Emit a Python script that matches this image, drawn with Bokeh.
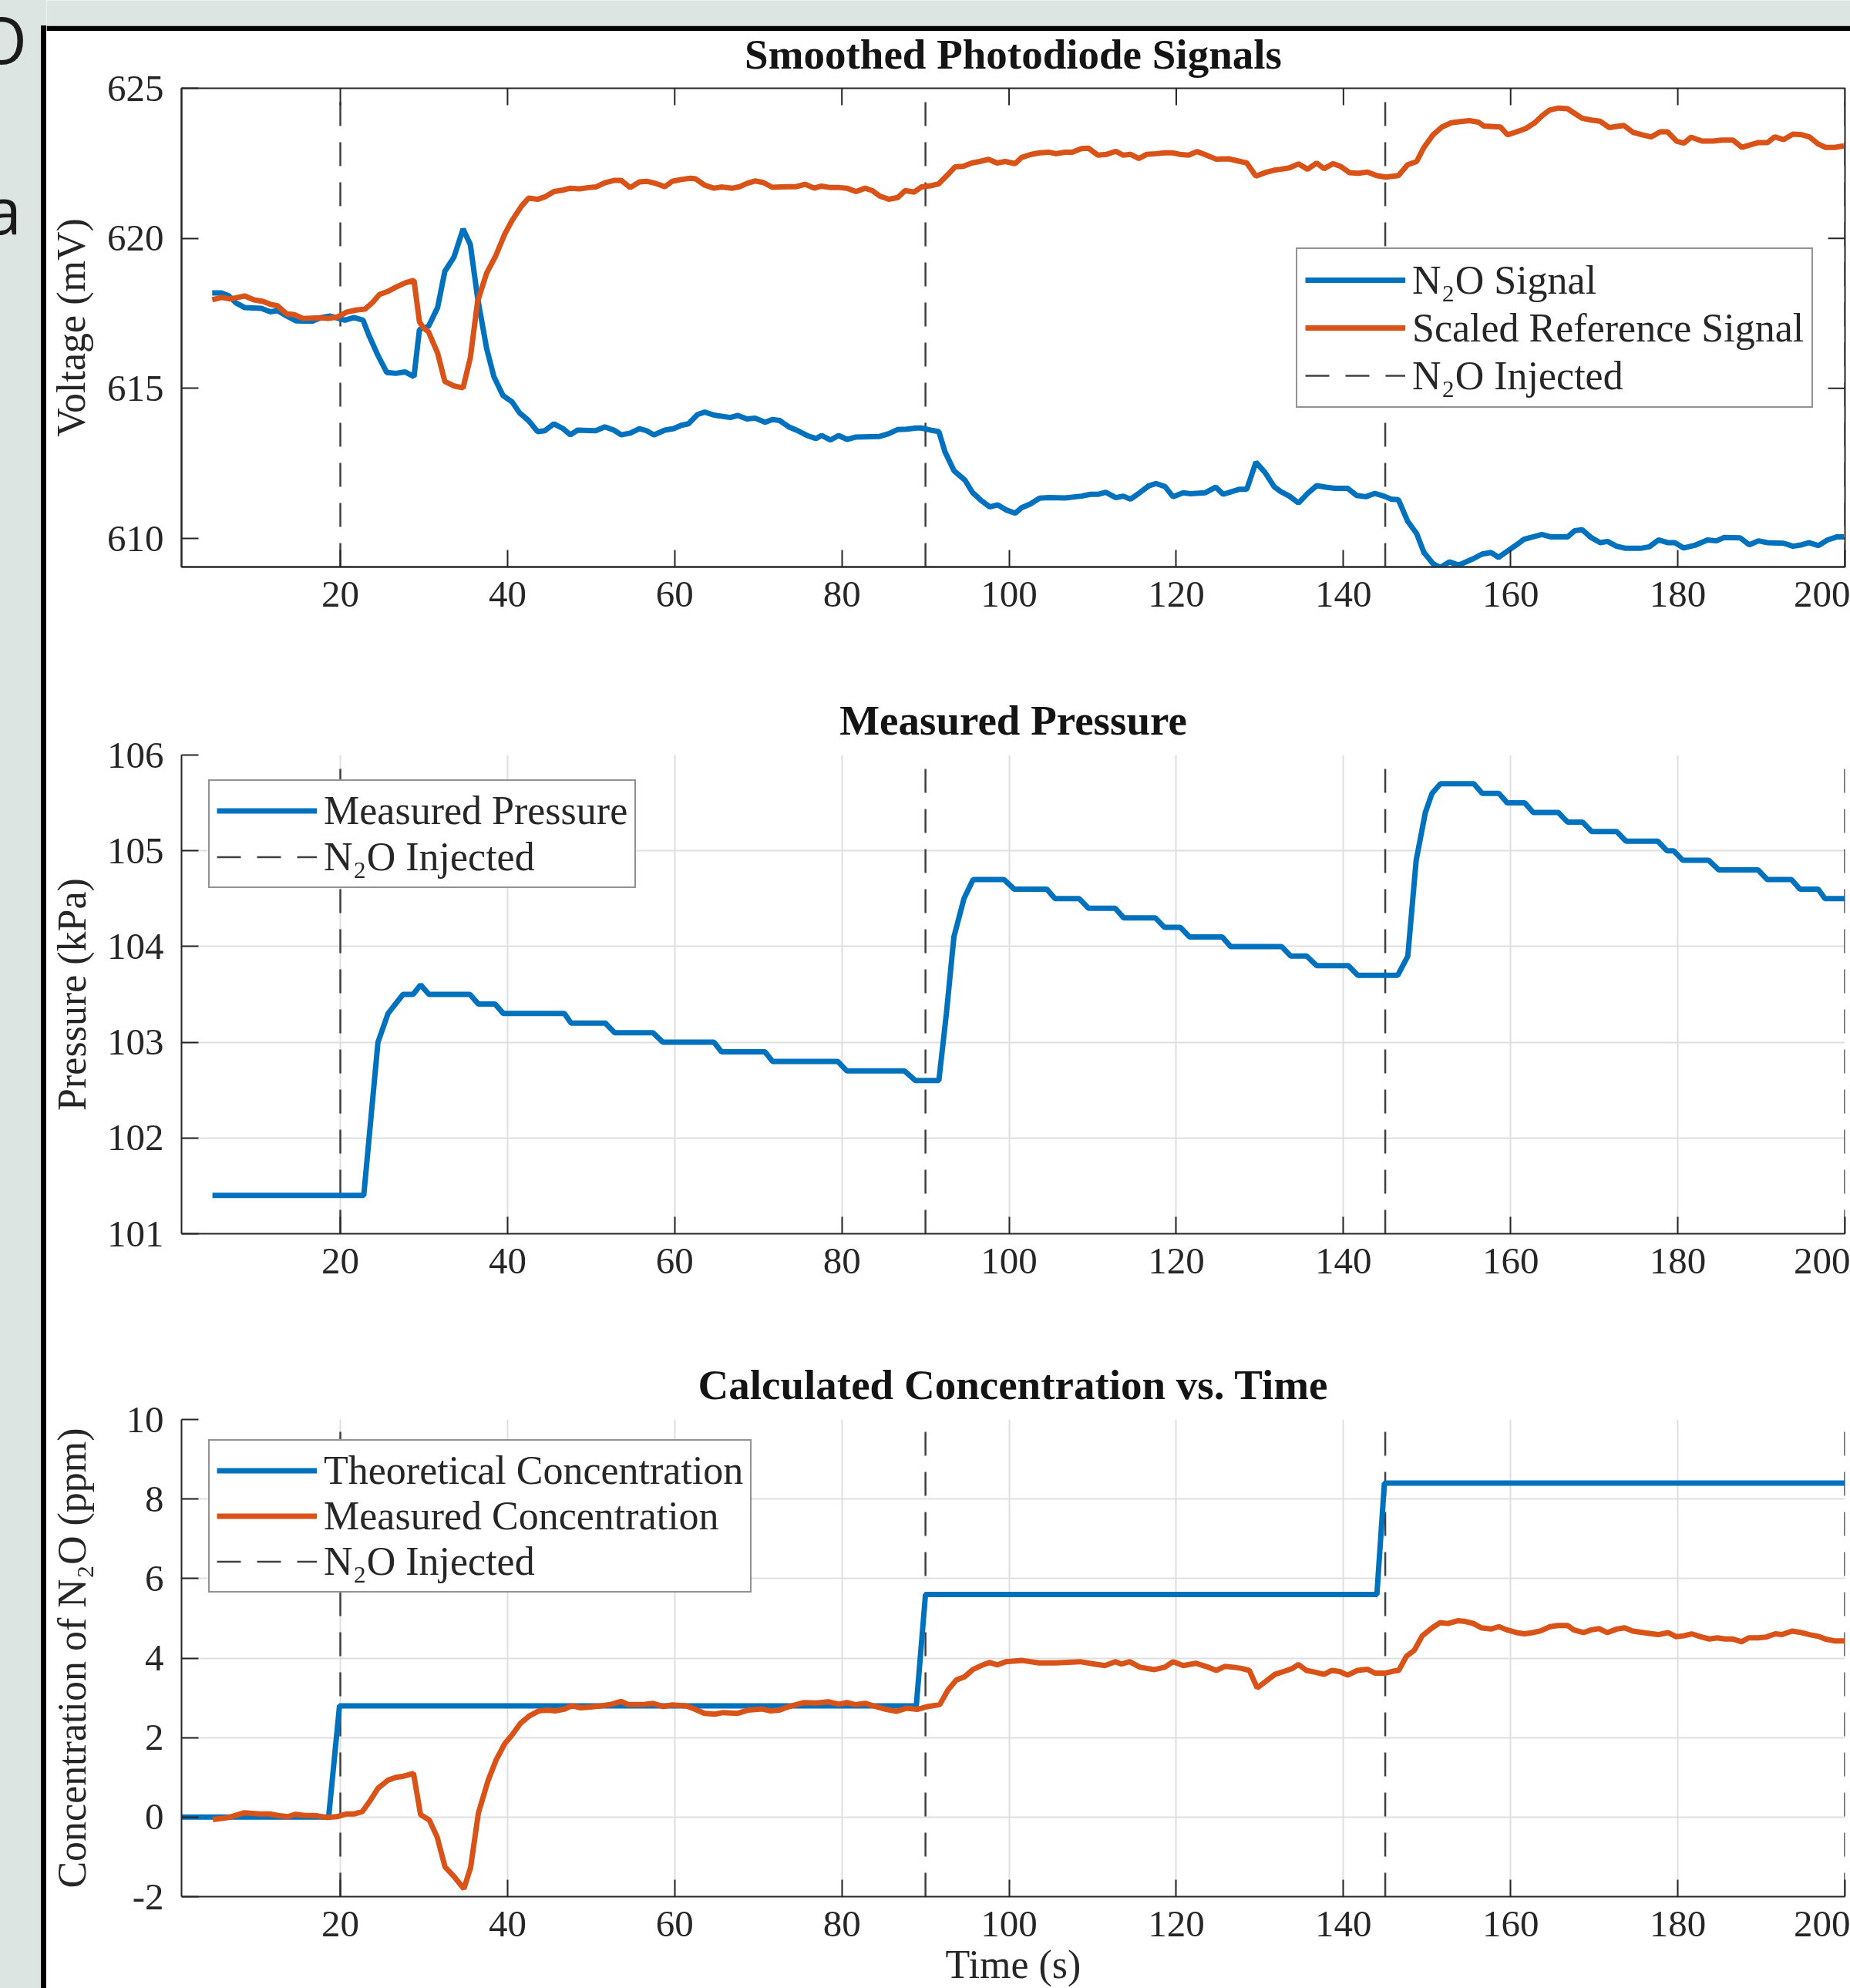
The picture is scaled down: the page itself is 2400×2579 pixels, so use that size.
import math
from bokeh.plotting import figure
from bokeh.models import Range1d, Legend, LegendItem, FixedTicker, Div
from bokeh.layouts import row, column
from bokeh.embed import file_html
from bokeh.resources import INLINE

# ---------------- data ----------------
# Smoothed photodiode signals (mV)
n2o_signal = [
    (4.67, 618.18), (5.76, 618.18), (6.63, 618.09), (7.50, 617.85), (8.58, 617.69), (10.54, 617.67),
    (11.63, 617.55), (12.50, 617.59), (13.59, 617.41), (14.67, 617.25), (16.63, 617.24), (17.72, 617.36),
    (18.80, 617.41), (20.55, 617.27), (21.63, 617.36), (22.72, 617.27), (23.37, 616.80), (24.46, 616.12),
    (25.55, 615.53), (26.63, 615.50), (27.72, 615.55), (28.81, 615.39), (29.46, 616.96), (30.55, 617.07),
    (31.63, 617.69), (32.50, 618.90), (33.59, 619.37), (34.68, 620.31), (35.55, 619.79), (36.42, 618.01),
    (37.50, 616.33), (38.37, 615.39), (39.46, 614.76), (40.55, 614.55), (41.42, 614.19), (42.51, 613.93),
    (43.59, 613.56), (44.46, 613.59), (45.55, 613.82), (46.64, 613.66), (47.51, 613.45), (48.38, 613.61),
    (50.55, 613.59), (51.64, 613.72), (52.73, 613.61), (53.60, 613.45), (54.68, 613.51), (55.77, 613.66),
    (56.64, 613.59), (57.51, 613.45), (58.82, 613.61), (59.90, 613.66), (60.77, 613.77), (61.64, 613.82),
    (62.73, 614.13), (63.60, 614.21), (64.69, 614.11), (66.65, 614.03), (67.55, 614.10), (68.64, 613.98),
    (69.60, 614.01), (70.81, 613.87), (71.68, 613.96), (72.55, 613.93), (73.64, 613.72), (74.73, 613.59),
    (75.82, 613.43), (76.90, 613.33), (77.56, 613.43), (78.64, 613.28), (79.60, 613.43), (80.60, 613.30),
    (81.69, 613.38), (84.51, 613.40), (85.60, 613.49), (86.69, 613.63), (87.78, 613.64), (88.86, 613.68),
    (89.51, 613.68), (90.60, 613.61), (91.60, 613.56), (92.34, 612.88), (93.43, 612.25), (94.73, 611.94),
    (95.60, 611.54), (96.69, 611.26), (97.69, 611.05), (98.65, 611.12), (99.73, 610.94), (100.73, 610.84),
    (101.47, 611.02), (102.56, 611.15), (103.65, 611.34), (104.74, 611.36), (106.69, 611.35), (108.65, 611.41),
    (109.74, 611.47), (110.61, 611.47), (111.56, 611.54), (112.78, 611.36), (113.65, 611.41), (114.52, 611.31),
    (115.61, 611.52), (116.70, 611.75), (117.57, 611.83), (118.65, 611.73), (119.61, 611.39), (120.83, 611.52),
    (121.70, 611.49), (123.44, 611.52), (124.74, 611.71), (125.61, 611.47), (127.57, 611.64), (128.44, 611.64),
    (129.53, 612.54), (130.61, 612.20), (131.70, 611.73), (132.45, 611.57), (133.54, 611.41), (134.62, 611.18),
    (135.71, 611.50), (136.80, 611.76), (137.89, 611.71), (138.97, 611.67), (140.50, 611.67), (141.58, 611.43),
    (142.67, 611.39), (143.76, 611.50), (144.84, 611.41), (145.71, 611.31), (146.58, 611.29), (147.67, 610.58),
    (148.76, 610.16), (149.63, 609.53), (150.72, 609.16), (151.59, 609.03), (152.67, 609.22), (153.76, 609.11),
    (155.50, 609.32), (156.59, 609.48), (157.67, 609.53), (158.54, 609.37), (159.63, 609.58), (160.72, 609.79),
    (161.59, 609.97), (162.89, 610.07), (163.76, 610.13), (164.85, 610.05), (166.81, 610.05), (167.68, 610.26),
    (168.55, 610.29), (169.63, 610.03), (170.72, 609.86), (171.59, 609.90), (172.68, 609.74), (173.77, 609.67),
    (175.51, 609.67), (176.59, 609.72), (177.68, 609.95), (178.77, 609.86), (179.64, 609.86), (180.72, 609.68),
    (182.03, 609.77), (183.55, 609.95), (184.64, 609.92), (185.51, 610.03), (187.46, 610.02), (188.55, 609.79),
    (189.64, 609.92), (190.73, 609.86), (192.68, 609.84), (193.77, 609.74), (194.86, 609.79), (195.73, 609.86),
    (196.82, 609.76), (197.90, 609.95), (198.99, 610.05), (199.86, 610.05),
]
reference_signal = [
    (4.67, 617.95), (5.76, 618.03), (6.85, 617.98), (8.58, 618.08), (9.67, 617.95), (10.76, 617.90),
    (11.63, 617.80), (12.50, 617.75), (13.59, 617.48), (14.46, 617.46), (15.54, 617.33), (17.50, 617.35),
    (18.59, 617.33), (19.67, 617.38), (20.76, 617.54), (21.85, 617.61), (22.94, 617.64), (23.81, 617.85),
    (24.68, 618.13), (25.76, 618.24), (26.63, 618.37), (27.72, 618.51), (28.81, 618.60), (29.46, 617.22),
    (29.90, 617.03), (30.55, 616.88), (31.63, 616.18), (32.50, 615.23), (33.59, 615.08), (34.68, 615.02),
    (35.55, 616.02), (36.42, 617.90), (37.50, 618.84), (38.59, 619.42), (39.68, 620.15), (40.55, 620.60),
    (41.64, 621.06), (42.51, 621.34), (43.59, 621.30), (44.46, 621.38), (45.55, 621.56), (46.64, 621.61),
    (47.51, 621.67), (48.60, 621.65), (49.68, 621.69), (50.55, 621.71), (51.64, 621.85), (52.73, 621.93),
    (53.60, 621.93), (54.68, 621.69), (55.77, 621.88), (56.64, 621.90), (57.73, 621.83), (58.82, 621.72),
    (59.69, 621.90), (60.77, 621.96), (61.86, 622.00), (62.51, 621.98), (63.60, 621.77), (64.69, 621.67),
    (65.56, 621.71), (66.90, 621.67), (67.77, 621.72), (68.64, 621.83), (69.60, 621.91), (70.60, 621.86),
    (71.68, 621.70), (73.42, 621.72), (74.51, 621.72), (75.60, 621.80), (76.69, 621.67), (77.56, 621.74),
    (78.64, 621.69), (79.73, 621.69), (80.60, 621.67), (81.69, 621.56), (82.77, 621.67), (83.64, 621.59),
    (84.51, 621.41), (85.60, 621.30), (86.69, 621.36), (87.56, 621.59), (88.65, 621.54), (89.51, 621.71),
    (90.60, 621.75), (91.60, 621.82), (92.56, 622.09), (93.52, 622.38), (94.52, 622.40), (95.52, 622.51),
    (96.47, 622.56), (97.56, 622.63), (98.56, 622.51), (99.52, 622.56), (100.73, 622.49), (101.47, 622.69),
    (102.56, 622.79), (103.65, 622.85), (104.74, 622.87), (105.61, 622.82), (106.69, 622.87), (107.56, 622.87),
    (108.65, 622.99), (109.52, 623.00), (110.61, 622.77), (111.69, 622.80), (112.78, 622.90), (113.65, 622.77),
    (114.52, 622.80), (115.52, 622.66), (116.48, 622.80), (117.57, 622.82), (118.65, 622.85), (119.52, 622.85),
    (120.39, 622.80), (121.48, 622.77), (122.48, 622.89), (123.44, 622.79), (124.74, 622.64), (126.26, 622.65),
    (127.35, 622.58), (128.44, 622.51), (129.53, 622.07), (130.61, 622.19), (131.70, 622.27), (132.45, 622.30),
    (133.54, 622.35), (134.62, 622.48), (135.71, 622.30), (136.80, 622.51), (137.67, 622.32), (138.76, 622.49),
    (139.63, 622.40), (140.71, 622.19), (141.80, 622.17), (142.89, 622.21), (143.97, 622.09), (145.06, 622.04),
    (146.58, 622.09), (147.67, 622.45), (148.76, 622.56), (149.63, 623.03), (150.72, 623.45), (151.80, 623.71),
    (152.89, 623.85), (153.98, 623.89), (155.06, 623.92), (156.15, 623.87), (156.80, 623.74), (158.76, 623.71),
    (159.63, 623.45), (160.72, 623.55), (161.81, 623.66), (162.89, 623.85), (163.76, 624.08), (164.63, 624.27),
    (165.72, 624.34), (166.81, 624.32), (167.68, 624.16), (168.55, 624.00), (169.63, 623.94), (170.72, 623.90),
    (171.81, 623.69), (172.68, 623.73), (173.55, 623.76), (174.64, 623.53), (175.72, 623.45), (176.81, 623.38),
    (177.90, 623.55), (178.77, 623.55), (179.85, 623.24), (180.72, 623.17), (181.59, 623.37), (182.90, 623.24),
    (184.20, 623.24), (185.29, 623.27), (186.59, 623.27), (187.68, 623.03), (188.77, 623.12), (189.64, 623.19),
    (190.73, 623.19), (191.60, 623.38), (192.68, 623.29), (193.77, 623.47), (194.86, 623.45), (195.73, 623.38),
    (196.82, 623.14), (197.69, 623.03), (198.77, 623.03), (199.86, 623.08),
]
# Measured pressure (kPa)
pressure = [
    (4.7, 101.4), (22.8, 101.4), (24.5, 103.0), (25.7, 103.3), (27.5, 103.5), (28.7, 103.5), (29.6, 103.6),
    (30.6, 103.5), (35.5, 103.5), (36.5, 103.4), (38.5, 103.4), (39.5, 103.3), (46.8, 103.3), (47.6, 103.2),
    (51.7, 103.2), (52.8, 103.1), (57.4, 103.1), (58.6, 103.0), (64.7, 103.0), (65.6, 102.9), (70.8, 102.9),
    (71.7, 102.8), (79.5, 102.8), (80.6, 102.7), (87.5, 102.7), (88.8, 102.6), (91.6, 102.6), (92.5, 103.3),
    (93.4, 104.1), (94.6, 104.5), (95.7, 104.7), (99.4, 104.7), (100.6, 104.6), (104.5, 104.6), (105.5, 104.5),
    (108.4, 104.5), (109.5, 104.4), (112.7, 104.4), (113.7, 104.3), (117.5, 104.3), (118.6, 104.2),
    (120.5, 104.2), (121.6, 104.1), (125.5, 104.1), (126.5, 104.0), (132.6, 104.0), (133.7, 103.9),
    (135.6, 103.9), (136.8, 103.8), (140.6, 103.8), (141.7, 103.7), (146.5, 103.7), (147.7, 103.9),
    (148.7, 104.9), (149.8, 105.4), (150.6, 105.6), (151.6, 105.7), (155.6, 105.7), (156.6, 105.6),
    (158.6, 105.6), (159.6, 105.5), (161.7, 105.5), (162.7, 105.4), (165.7, 105.4), (166.8, 105.3),
    (168.6, 105.3), (169.7, 105.2), (172.7, 105.2), (173.8, 105.1), (177.6, 105.1), (178.7, 105.0),
    (179.5, 105.0), (180.6, 104.9), (183.7, 104.9), (184.9, 104.8), (189.6, 104.8), (190.7, 104.7),
    (193.6, 104.7), (194.6, 104.6), (196.8, 104.6), (197.6, 104.5), (200.0, 104.5),
]
# Concentration of N2O (ppm)
theoretical_conc = [(1.0, 0.0), (18.6, 0.0), (19.9, 2.8), (88.9, 2.8), (90.0, 5.6),
                    (144.0, 5.6), (144.9, 8.4), (200.0, 8.4)]
measured_conc = [
    (4.75, -0.06), (6.63, -0.01), (8.52, 0.11), (10.40, 0.08), (11.58, 0.08), (12.52, 0.04), (13.70, 0.01),
    (14.64, 0.07), (15.81, 0.04), (16.99, 0.04), (18.40, -0.01), (19.58, 0.01), (20.75, 0.08), (21.69, 0.08),
    (22.63, 0.14), (23.58, 0.42), (24.52, 0.73), (25.70, 0.93), (26.64, 1.00), (27.58, 1.03), (28.75, 1.10),
    (29.60, 0.06), (30.63, -0.07), (31.58, -0.50), (32.52, -1.25), (33.70, -1.52), (34.78, -1.80),
    (35.58, -1.27), (36.52, 0.11), (37.69, 0.93), (38.64, 1.44), (39.67, 1.85), (40.52, 2.06), (41.55, 2.36),
    (42.64, 2.55), (43.72, 2.67), (44.76, 2.69), (45.70, 2.67), (46.87, 2.72), (47.67, 2.80), (48.76, 2.75),
    (49.93, 2.77), (51.23, 2.80), (52.46, 2.84), (53.60, 2.91), (54.44, 2.83), (56.17, 2.83), (57.40, 2.86),
    (58.64, 2.78), (59.62, 2.82), (61.35, 2.80), (62.34, 2.72), (63.57, 2.61), (64.81, 2.59), (65.79, 2.63),
    (67.52, 2.61), (68.76, 2.69), (70.48, 2.72), (71.47, 2.67), (72.46, 2.69), (73.69, 2.78), (75.42, 2.88),
    (76.90, 2.87), (78.38, 2.90), (79.62, 2.84), (80.61, 2.88), (81.59, 2.83), (82.83, 2.86), (84.06, 2.78),
    (85.30, 2.71), (86.53, 2.66), (87.76, 2.74), (89.00, 2.71), (90.23, 2.78), (91.71, 2.83), (92.70, 3.20),
    (93.69, 3.45), (94.68, 3.53), (95.66, 3.71), (96.65, 3.81), (97.64, 3.89), (98.62, 3.83), (99.61, 3.91),
    (101.59, 3.94), (103.56, 3.88), (105.53, 3.88), (108.50, 3.91), (110.22, 3.85), (111.46, 3.81),
    (112.69, 3.91), (113.44, 3.85), (114.42, 3.91), (115.66, 3.77), (117.39, 3.71), (118.62, 3.77),
    (119.61, 3.91), (120.84, 3.81), (122.32, 3.87), (123.56, 3.79), (124.79, 3.69), (125.78, 3.79),
    (126.86, 3.77), (127.80, 3.74), (128.74, 3.69), (129.68, 3.25), (130.62, 3.40), (131.80, 3.59),
    (132.97, 3.67), (133.91, 3.74), (134.62, 3.84), (135.56, 3.69), (136.74, 3.64), (137.68, 3.59),
    (138.62, 3.69), (139.56, 3.66), (140.50, 3.57), (141.67, 3.69), (142.85, 3.72), (143.79, 3.62),
    (144.97, 3.62), (145.91, 3.67), (146.61, 3.69), (147.55, 4.05), (148.49, 4.20), (149.43, 4.56),
    (150.61, 4.76), (151.55, 4.89), (152.49, 4.87), (153.67, 4.94), (154.61, 4.92), (155.55, 4.87),
    (156.49, 4.76), (157.66, 4.73), (158.60, 4.79), (159.55, 4.71), (160.72, 4.64), (161.66, 4.61),
    (162.60, 4.64), (163.54, 4.68), (164.72, 4.79), (165.66, 4.82), (166.84, 4.82), (167.54, 4.71),
    (168.72, 4.64), (169.66, 4.71), (170.60, 4.74), (171.54, 4.64), (172.71, 4.73), (173.65, 4.76),
    (174.60, 4.68), (176.24, 4.63), (177.65, 4.59), (178.83, 4.64), (179.77, 4.54), (180.71, 4.56),
    (181.65, 4.61), (182.83, 4.53), (183.77, 4.48), (184.71, 4.51), (185.65, 4.48), (186.59, 4.48),
    (187.62, 4.41), (188.47, 4.51), (189.65, 4.51), (190.59, 4.53), (191.67, 4.61), (192.47, 4.59),
    (193.65, 4.68), (194.58, 4.65), (195.76, 4.59), (196.94, 4.54), (197.64, 4.48), (198.82, 4.43),
    (200.00, 4.43),
]
injection_times = [20, 90, 145, 200]

x_ticks = [20, 40, 60, 80, 100, 120, 140, 160, 180, 200]
voltage_ticks = [610, 615, 620, 625]
pressure_ticks = [101, 102, 103, 104, 105, 106]
conc_ticks = [-2, 0, 2, 4, 6, 8, 10]

# ---------------- styling ----------------
INK = "#262626"
BLUE = "#0072BD"
ORANGE = "#D95319"
DASH_C = "#404040"
GRID_C = "#dfdfdf"
BAND = "#dde5e3"
SERIF = "Liberation Serif"
DASH = "31 21"
X_RANGE = (1, 200)


def split(pts):
    return [a for a, _ in pts], [b for _, b in pts]


def style_axis(ax, standoff):
    ax.axis_line_color = INK
    ax.axis_line_width = 2
    ax.major_tick_line_color = INK
    ax.major_tick_line_width = 2
    ax.major_tick_in = 22
    ax.major_tick_out = 0
    ax.minor_tick_line_color = None
    ax.major_label_text_font = SERIF
    ax.major_label_text_font_size = "49px"
    ax.major_label_text_color = INK
    ax.major_label_standoff = standoff
    ax.axis_label_text_font = SERIF
    ax.axis_label_text_font_size = "52px"
    ax.axis_label_text_font_style = "normal"
    ax.axis_label_text_color = INK


def make_panel(height, b_top, b_bottom, yr, yticks, title, ylabel, grid, ylabel_standoff,
               title_standoff, margin=0):
    p = figure(width=2340, height=height, x_range=Range1d(*X_RANGE), y_range=Range1d(*yr),
               output_backend="svg", toolbar_location=None, title=title, margin=margin,
               min_border_left=175, min_border_right=7, min_border_top=b_top, min_border_bottom=b_bottom)
    p.title.text_font = SERIF
    p.title.text_font_size = "55px"
    p.title.text_font_style = "bold"
    p.title.align = "center"
    p.title.text_color = "#141414"
    p.title.standoff = title_standoff
    p.xaxis.ticker = FixedTicker(ticks=x_ticks)
    p.yaxis.ticker = FixedTicker(ticks=yticks)
    style_axis(p.xaxis[0], 19)
    style_axis(p.yaxis[0], 23)
    p.yaxis.axis_label = ylabel
    p.yaxis.axis_label_standoff = ylabel_standoff
    p.background_fill_color = "white"
    p.border_fill_color = "white"
    if grid:
        p.grid.grid_line_color = GRID_C
        p.grid.grid_line_width = 2
        p.outline_line_color = None
    else:
        p.grid.grid_line_color = None
        p.outline_line_color = INK
        p.outline_line_width = 2
    return p


def add_injections(p, y0, y1):
    n = len(injection_times)
    return p.segment(x0=injection_times, y0=[y0] * n, x1=injection_times, y1=[y1] * n,
                     line_color=DASH_C, line_width=2.5, line_dash=DASH)


def add_legend(p, items, loc, label_h, spacing, padding):
    leg = Legend(items=items, location=loc, orientation="vertical",
                 label_text_font=SERIF, label_text_font_size="52px", label_text_color=INK,
                 glyph_width=130, glyph_height=label_h, label_height=label_h, label_standoff=9,
                 padding=padding, spacing=spacing, border_line_color=INK, border_line_width=2,
                 background_fill_color="white", background_fill_alpha=1.0, margin=0)
    p.add_layout(leg, "center")


# ---------------- panel 1: photodiode signals ----------------
# the panel slides 17 px under the screenshot's top band (its border is transparent there)
V_RANGE = (609.05, 625)
p1 = make_panel(847, 91, 135, V_RANGE, voltage_ticks, "Smoothed Photodiode Signals",
                "Voltage (mV)", grid=False, ylabel_standoff=15, title_standoff=28,
                margin=(-17, 0, 0, 0))
p1.border_fill_alpha = 0.0
d1 = add_injections(p1, V_RANGE[0], V_RANGE[1])
# inward box ticks on the top and right edges (half of each dash is clipped by the frame)
p1.scatter(x=x_ticks, y=[V_RANGE[1]] * len(x_ticks), marker="dash", size=44, angle=math.pi / 2,
           line_color=INK, line_width=2)
p1.scatter(x=[X_RANGE[1]] * 3, y=voltage_ticks[:3], marker="dash", size=44,
           line_color=INK, line_width=2)
tx, vy = split(n2o_signal)
r_sig = p1.line(tx, vy, line_color=BLUE, line_width=7)
tx, vy = split(reference_signal)
r_ref = p1.line(tx, vy, line_color=ORANGE, line_width=7)
add_legend(p1, [LegendItem(label="N\u2082O Signal", renderers=[r_sig]),
                LegendItem(label="Scaled Reference Signal", renderers=[r_ref]),
                LegendItem(label="N\u2082O Injected", renderers=[d1])],
           (1446, 206), 60, 2, 10)

# ---------------- panel 2: pressure ----------------
P_RANGE = (101, 106)
p2 = make_panel(850, 109, 120, P_RANGE, pressure_ticks, "Measured Pressure",
                "Pressure (kPa)", grid=True, ylabel_standoff=14, title_standoff=30)
d2 = add_injections(p2, P_RANGE[0], P_RANGE[1])
tx, py = split(pressure)
r_p = p2.line(tx, py, line_color=BLUE, line_width=7)
add_legend(p2, [LegendItem(label="Measured Pressure", renderers=[r_p]),
                LegendItem(label="N\u2082O Injected", renderers=[d2])],
           (35, 448), 59, 1, 9)

# ---------------- panel 3: concentration ----------------
C_RANGE = (-2, 10)
p3 = make_panel(859, 121, 117, C_RANGE, conc_ticks, "Calculated Concentration vs. Time",
                "Concentration of N\u2082O (ppm)", grid=True, ylabel_standoff=39, title_standoff=30)
p3.yaxis.major_label_overrides = {-2: "-2"}
p3.xaxis.axis_label = "Time (s)"
p3.xaxis.axis_label_standoff = 5
d3 = add_injections(p3, C_RANGE[0], C_RANGE[1])
tx, cy = split(theoretical_conc)
r_th = p3.line(tx, cy, line_color=BLUE, line_width=7)
tx, cy = split(measured_conc)
r_me = p3.line(tx, cy, line_color=ORANGE, line_width=7)
add_legend(p3, [LegendItem(label="Theoretical Concentration", renderers=[r_th]),
                LegendItem(label="Measured Concentration", renderers=[r_me]),
                LegendItem(label="N\u2082O Injected", renderers=[d3])],
           (35, 394), 57, -3, 9)

# ---------------- surrounding screenshot frame ----------------
GLYPH_CSS = "position:absolute;font-family:'Open Sans',sans-serif;font-size:85px;line-height:85px;color:#1a1a1a;white-space:nowrap;"
band_html = (
    f'<div style="position:relative;width:60px;height:2579px;overflow:hidden;background:{BAND};">'
    '<div style="position:absolute;left:53px;top:33px;width:7px;height:2546px;background:#000;"></div>'
    f'<div style="{GLYPH_CSS}right:25px;top:8px;">O</div>'
    f'<div style="{GLYPH_CSS}right:32px;top:229px;">a</div>'
    '</div>'
)
band = Div(text=band_html, width=60, height=2579, margin=0)

topband = figure(width=2340, height=40, x_range=Range1d(0, 1), y_range=Range1d(0, 1),
                 output_backend="svg", toolbar_location=None, title=None,
                 x_axis_location=None, y_axis_location=None,
                 min_border_left=0, min_border_right=0, min_border_top=0, min_border_bottom=7)
topband.frame_align = False
topband.background_fill_color = BAND
topband.border_fill_color = "black"
topband.outline_line_color = None
topband.grid.grid_line_color = None

layout = row(band, column(topband, p1, p2, p3))

open("out.html", "w").write(file_html(layout, INLINE))
